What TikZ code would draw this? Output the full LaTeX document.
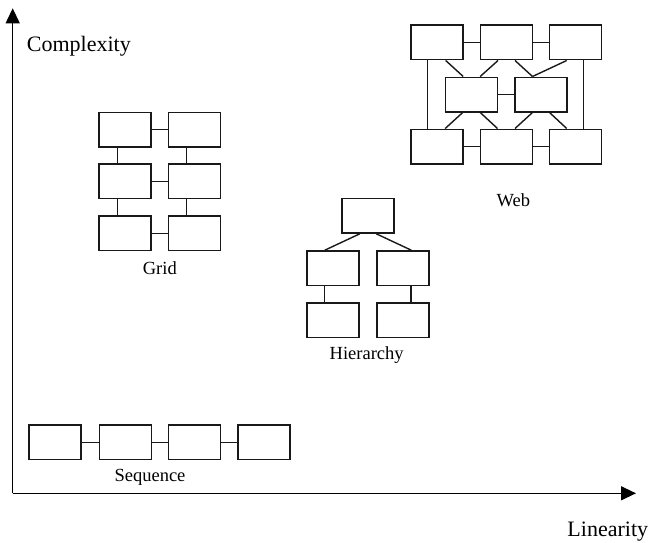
\documentclass[tikz,border=0pt]{standalone}
\usepackage{fontspec}
\setmainfont{Liberation Serif}
\usetikzlibrary{arrows.meta}
\begin{document}
\begin{tikzpicture}[x=1pt,y=-1pt,
  box/.style={draw=black!90,line width=1.5pt,minimum width=52pt,minimum height=34.5pt,inner sep=0pt},
  link/.style={draw=black!90,line width=1.4pt},
  axis/.style={line width=1.3pt,-{Triangle[length=15pt,width=14pt]}},
  lbl/.style={font=\fontsize{18.5}{22}\selectfont,inner sep=0pt},
  axlbl/.style={font=\fontsize{22}{26}\selectfont,inner sep=0pt}]
\useasboundingbox (0,0) rectangle (650,543);

% axes
\coordinate (origin) at (12.7,493.3);
\coordinate (ytip) at (12.7,8.3);
\coordinate (xtip) at (636,493.3);
\draw[axis] (origin) -- (ytip);
\draw[axis] (origin) -- (xtip);
\node[axlbl,anchor=west] (complexity) at (26.7,46.7) {Complexity};
\node[axlbl,anchor=east] (linearity) at (648.3,531.7) {Linearity};

% sequence
\foreach \i/\x in {1/55.2,2/125.3,3/194.7,4/263.8}
  \node[box] (s\i) at (\x,442.2) {};
\draw[link] (s1) -- (s2) (s2) -- (s3) (s3) -- (s4);
\node[lbl] (seqlbl) at (150,477.7) {Sequence};

% grid
\foreach \r/\y in {1/129.5,2/181.2,3/233.3} {
  \node[box] (g\r a) at (125.2,\y) {};
  \node[box] (g\r b) at (194.3,\y) {};
  \draw[link] (g\r a) -- (g\r b);
}
\foreach \r/\s in {1/2,2/3} {
  \draw[link] ([xshift=-8pt]g\r a.south) -- ([xshift=-8pt]g\s a.north);
  \draw[link] ([xshift=-8pt]g\r b.south) -- ([xshift=-8pt]g\s b.north);
}
\node[lbl] (gridlbl) at (159.8,268) {Grid};

% hierarchy
\node[box] (h0) at (367.8,215.8) {};
\node[box] (h1) at (332.8,268.2) {};
\node[box] (h2) at (402.8,268.2) {};
\node[box] (h3) at (332.8,320) {};
\node[box] (h4) at (402.8,320) {};
\draw[link] ([xshift=-8pt]h0.south) -- ([xshift=-8pt]h1.north);
\draw[link] ([xshift=8.5pt]h0.south) -- ([xshift=8.5pt]h2.north);
\draw[link] ([xshift=-8.5pt]h1.south) -- ([xshift=-8.5pt]h3.north);
\draw[link] ([xshift=8pt]h2.south) -- ([xshift=8pt]h4.north);
\node[lbl] (hierlbl) at (366.7,355) {Hierarchy};

% web
\foreach \i/\x in {1/437.2,2/506.5,3/575.7} {
  \node[box] (t\i) at (\x,42.5) {};
  \node[box] (b\i) at (\x,146.5) {};
}
\node[box] (m1) at (471.7,94.5) {};
\node[box] (m2) at (541,94.5) {};
\draw[link] (t1) -- (t2) (t2) -- (t3);
\draw[link] (b1) -- (b2) (b2) -- (b3);
\draw[link] (m1) -- (m2);
\draw[link] ([xshift=-9.5pt]t1.south) -- ([xshift=-9.5pt]b1.north);
\draw[link] ([xshift=8pt]t3.south) -- ([xshift=8pt]b3.north);
\draw[link] ([xshift=8.5pt]t1.south) -- ([xshift=-8.5pt]m1.north);
\draw[link] ([xshift=-8.5pt]t2.south) -- ([xshift=8.5pt]m1.north);
\draw[link] ([xshift=8.5pt]t2.south) -- ([xshift=-8.5pt]m2.north);
\draw[link] ([xshift=-9pt]t3.south) -- ([xshift=-8.5pt]m2.north);
\draw[link] ([xshift=-9pt]m1.south) -- ([xshift=8pt]b1.north);
\draw[link] ([xshift=8.5pt]m1.south) -- ([xshift=-9pt]b2.north);
\draw[link] ([xshift=-8.5pt]m2.south) -- ([xshift=8.5pt]b2.north);
\draw[link] ([xshift=8.5pt]m2.south) -- ([xshift=-9pt]b3.north);
\node[lbl] (weblbl) at (513.3,200.7) {Web};
\end{tikzpicture}
\end{document}
